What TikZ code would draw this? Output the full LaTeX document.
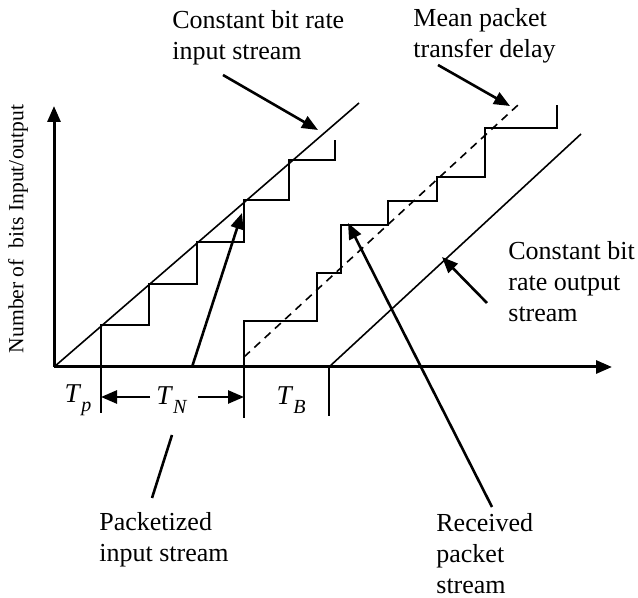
\documentclass[tikz,border=0pt]{standalone}
\usepackage{fontspec}
\setmainfont{Liberation Serif}
\usetikzlibrary{arrows.meta}
\tikzstyle{axisline} = [line width=1.5pt,-{Triangle[length=8pt,width=6.5pt]}]
\tikzstyle{stair} = [line width=1pt]
\tikzstyle{rate} = [line width=0.8pt]
\tikzstyle{arrow} = [line width=1.3pt,-{Triangle[length=8pt,width=6.5pt]}]
\tikzstyle{note} = [align=left, anchor=west, inner sep=0pt, font=\fontsize{13}{15.5}\selectfont]
\newcommand{\timelbl}[2]{\textit{#1}\raisebox{-4.5pt}{\fontsize{10}{10}\selectfont\textit{#2}}}

\begin{document}
\begin{tikzpicture}[x=0.5pt,y=-0.5pt]
    \useasboundingbox (0,0) rectangle (638,598);

    % axes
    \coordinate (o) at (54,367);
    \coordinate (ytop) at (54,106);
    \coordinate (xend) at (612,367);
    \draw[axisline] (o) -- (ytop);
    \draw[axisline] (o) -- (xend);
    \node[rotate=90, inner sep=0pt, font=\fontsize{10.8}{12}\selectfont] (ylabel) at (18,229) {Number of \ bits Input/output};

    % input stream and packetized input
    \coordinate (inend) at (359,103);
    \draw[rate] (o) -- (inend);
    \draw[stair] (101,413) -- (101,325) -| (149,284) -| (197,242) -| (244,200) -| (289,160) -| (335,140);

    % received packets and mean delay
    \draw[stair] (244,418) -- (244,321) -| (317,273) -| (341,225) -| (388,201) -| (437,177) -| (485,128) -| (557,105);
    \draw[rate, dashed, dash pattern=on 4pt off 3pt] (244,357) -- (518,105);

    % output stream
    \coordinate (tbtick) at (329,367);
    \coordinate (outend) at (581,134);
    \draw[rate] (329,416) -- (tbtick) -- (outend);

    % time labels
    \node[inner sep=0pt, font=\fontsize{13.6}{14}\selectfont] (tp) at (78,400) {\timelbl{T}{p}};
    \node[inner sep=0pt, font=\fontsize{13.6}{14}\selectfont] (tn) at (172,400) {\timelbl{T}{N}};
    \node[inner sep=0pt, font=\fontsize{13.6}{14}\selectfont] (tb) at (291,400) {\timelbl{T}{B}};
    \coordinate (tick1) at (101,397);
    \coordinate (tick2) at (244,397);
    \coordinate (tnleft) at (150,397);
    \coordinate (tnright) at (198,397);
    \draw[arrow] (tnleft) -- (tick1);
    \draw[arrow] (tnright) -- (tick2);

    % annotations
    \node[note] (cbrin) at (172,38) {Constant bit rate\\input stream};
    \coordinate (cbrinfrom) at (223,75);
    \coordinate (cbrinto) at (318,130);
    \draw[arrow] (cbrinfrom) -- (cbrinto);

    \node[note] (delay) at (413,36) {Mean packet\\transfer delay};
    \coordinate (delayfrom) at (438,65);
    \coordinate (delayto) at (510,106);
    \draw[arrow] (delayfrom) -- (delayto);

    \node[note] (cbrout) at (508,282) {Constant bit\\rate output\\stream};
    \coordinate (cbroutfrom) at (487,303);
    \coordinate (cbroutto) at (442,257);
    \draw[arrow] (cbroutfrom) -- (cbroutto);

    \node[note] (rx) at (436,554) {Received\\packet\\stream};
    \coordinate (rxfrom) at (492,507);
    \coordinate (rxto) at (348,223);
    \draw[arrow] (rxfrom) -- (rxto);

    \node[note] (pkt) at (99,540) {Packetized\\input stream};
    \coordinate (pktfrom) at (152,498);
    \coordinate (pktmid) at (172,435);
    \coordinate (pktbase) at (192,367);
    \coordinate (pktto) at (242,213);
    \draw[line width=1.3pt] (pktfrom) -- (pktmid);
    \draw[arrow] (pktbase) -- (pktto);
\end{tikzpicture}
\end{document}
